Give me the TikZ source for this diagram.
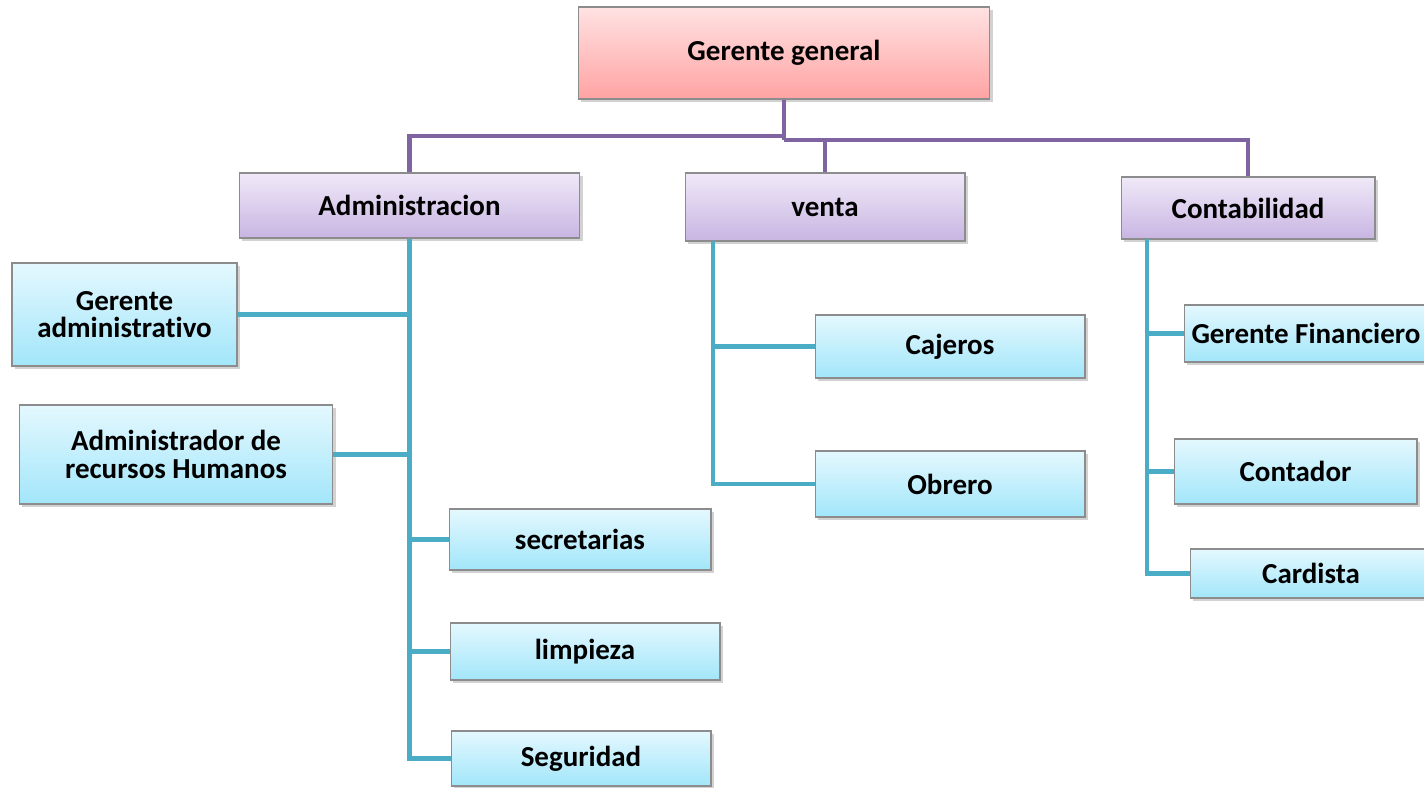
\documentclass[tikz,border=0pt]{standalone}
\usepackage{fontspec}
\setmainfont[Ligatures=NoCommon]{Carlito}
\usepackage{tikz}
\usetikzlibrary{shadows}
\definecolor{orgpurple}{HTML}{8064A2}
\definecolor{orgblue}{HTML}{4BACC6}
\definecolor{boxedge}{HTML}{8C8C8C}
\definecolor{gertop}{HTML}{FFE2E2}
\definecolor{gerbot}{HTML}{FFA3A3}
\definecolor{depttop}{HTML}{F0E9F8}
\definecolor{deptbot}{HTML}{C8B5E2}
\definecolor{stafftop}{HTML}{E4F8FE}
\definecolor{staffbot}{HTML}{A2E6FA}

\tikzset{
  basebox/.style={draw=boxedge, line width=0.6pt, inner sep=0pt, align=center,
    font=\fontsize{16.5}{15.5}\selectfont\bfseries,
    drop shadow={shadow xshift=1.6pt, shadow yshift=-1.6pt, opacity=0.35}},
  gerbox/.style={basebox, top color=gertop, bottom color=gerbot},
  deptbox/.style={basebox, top color=depttop, bottom color=deptbot},
  staffbox/.style={basebox, top color=stafftop, bottom color=staffbot},
  orgline/.style={draw=orgpurple, line width=2.3pt},
  subline/.style={draw=orgblue, line width=2.3pt}
}

\begin{document}
\begin{tikzpicture}[x=0.02cm,y=-0.02cm]
  \clip (0,0) rectangle (1424,788);
  \fill[white] (0,0) rectangle (1424,788);

  % top level
  \node[gerbox, minimum width=8.24cm, minimum height=1.84cm] (gg) at (784,53) {Gerente general};

  % departments
  \node[deptbox, minimum width=6.82cm, minimum height=1.3cm] (adm) at (409.5,205.5) {Administracion};
  \node[deptbox, minimum width=5.6cm, minimum height=1.36cm] (ven) at (825,207) {venta};
  \node[deptbox, minimum width=5.08cm, minimum height=1.24cm] (con) at (1248,208) {Contabilidad};

  % administracion
  \node[staffbox, minimum width=4.5cm, minimum height=2.06cm] (gad) at (124.5,314.5) {Gerente\\administrativo};
  \node[staffbox, minimum width=6.28cm, minimum height=1.98cm] (arh) at (176,454.5) {Administrador de\\recursos Humanos};
  \node[staffbox, minimum width=5.24cm, minimum height=1.22cm] (sec) at (580,539.5) {secretarias};
  \node[staffbox, minimum width=5.4cm, minimum height=1.14cm] (lim) at (585,651.5) {limpieza};
  \node[staffbox, minimum width=5.2cm, minimum height=1.1cm] (seg) at (581,758.5) {Seguridad};

  % venta
  \node[staffbox, minimum width=5.4cm, minimum height=1.26cm] (caj) at (950,346.5) {Cajeros};
  \node[staffbox, minimum width=5.4cm, minimum height=1.32cm] (obr) at (950,484) {Obrero};

  % contabilidad
  \node[staffbox, minimum width=4.88cm, minimum height=1.14cm] (gfi) at (1306,333.5) {Gerente Financiero};
  \node[staffbox, minimum width=4.86cm, minimum height=1.3cm] (ctd) at (1295.5,471.5) {Contador};
  \node[staffbox, minimum width=4.84cm, minimum height=0.98cm] (car) at (1311,573.5) {Cardista};

  % upper connectors
  \coordinate (jl) at (784,136);
  \coordinate (jr) at (784,140);
  \draw[orgline] (gg.south) -- (jr);
  \draw[orgline] (jl) -| (adm.north);
  \draw[orgline] (jr) -| (con.north);
  \draw[orgline] (ven.north) -- (ven.north |- jr);

  % administracion connectors
  \draw[subline] (adm.south) -- (adm.south |- seg.west) -- (seg.west);
  \draw[subline] (adm.south |- gad.east) -- (gad.east);
  \draw[subline] (adm.south |- arh.east) -- (arh.east);
  \draw[subline] (adm.south |- sec.west) -- (sec.west);
  \draw[subline] (adm.south |- lim.west) -- (lim.west);

  % venta connectors
  \coordinate (vt) at (713,241);
  \draw[subline] (vt) |- (obr.west);
  \draw[subline] (vt |- caj.west) -- (caj.west);

  % contabilidad connectors
  \coordinate (ct) at (1147,239);
  \draw[subline] (ct) |- (car.west);
  \draw[subline] (ct |- gfi.west) -- (gfi.west);
  \draw[subline] (ct |- ctd.west) -- (ctd.west);
\end{tikzpicture}
\end{document}
